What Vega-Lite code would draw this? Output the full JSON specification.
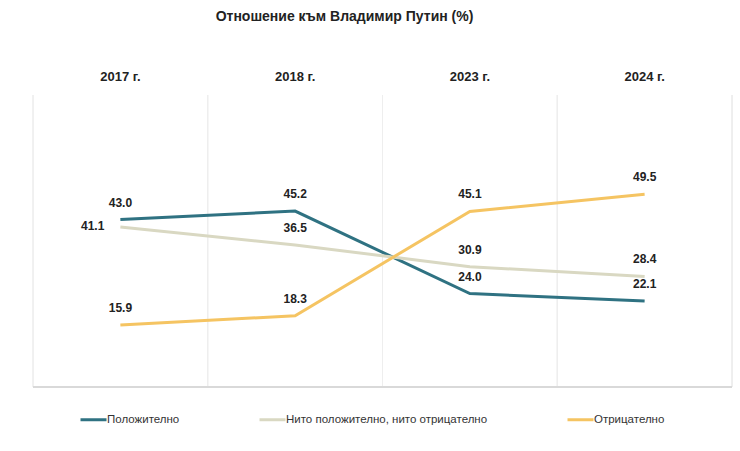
{
  "$schema": "https://vega.github.io/schema/vega-lite/v6.json",
  "autosize": "none",
  "width": 699,
  "height": 292,
  "padding": {"left": 33, "top": 95, "right": 8, "bottom": 64},
  "background": "white",
  "title": {
    "text": "Отношение към Владимир Путин (%)",
    "fontSize": 14,
    "fontWeight": "bold",
    "color": "#222222",
    "anchor": "middle",
    "dx": -38,
    "offset": 46
  },
  "config": {
    "view": {"stroke": null},
    "font": "Liberation Sans"
  },
  "data": {
    "values": [
      {"year": "2017 г.", "series": "Положително", "value": 43.0},
      {"year": "2018 г.", "series": "Положително", "value": 45.2},
      {"year": "2023 г.", "series": "Положително", "value": 24.0},
      {"year": "2024 г.", "series": "Положително", "value": 22.1},
      {"year": "2017 г.", "series": "Нито положително, нито отрицателно", "value": 41.1},
      {"year": "2018 г.", "series": "Нито положително, нито отрицателно", "value": 36.5},
      {"year": "2023 г.", "series": "Нито положително, нито отрицателно", "value": 30.9},
      {"year": "2024 г.", "series": "Нито положително, нито отрицателно", "value": 28.4},
      {"year": "2017 г.", "series": "Отрицателно", "value": 15.9},
      {"year": "2018 г.", "series": "Отрицателно", "value": 18.3},
      {"year": "2023 г.", "series": "Отрицателно", "value": 45.1},
      {"year": "2024 г.", "series": "Отрицателно", "value": 49.5}
    ]
  },
  "encoding": {
    "x": {
      "field": "year",
      "type": "nominal",
      "bandPosition": 0.5,
      "scale": {"type": "band", "paddingInner": 0, "paddingOuter": 0},
      "axis": {
        "orient": "top",
        "title": null,
        "domain": false,
        "ticks": false,
        "grid": false,
        "labelAngle": 0,
        "labelPadding": 12,
        "labelFontSize": 13,
        "labelFontWeight": "bold",
        "labelColor": "#222222",
        "bandPosition": 0.5
      }
    },
    "y": {
      "field": "value",
      "type": "quantitative",
      "scale": {"domain": [0, 75], "nice": false},
      "axis": null
    }
  },
  "layer": [
    {
      "mark": {"type": "rule", "stroke": "#eeeeee", "strokeWidth": 1},
      "encoding": {
        "x": {
          "field": "year",
          "type": "nominal",
          "bandPosition": 0,
          "scale": {"type": "band", "paddingInner": 0, "paddingOuter": 0}
        },
        "y": {"datum": 0},
        "y2": {"datum": 75}
      }
    },
    {
      "mark": {"type": "rule", "stroke": "#eeeeee", "strokeWidth": 1},
      "encoding": {
        "x": {"value": 699},
        "y": {"datum": 0},
        "y2": {"datum": 75}
      }
    },
    {
      "mark": {"type": "rule", "stroke": "#d9d9d9", "strokeWidth": 2},
      "encoding": {
        "x": {"value": 0},
        "x2": {"value": 699},
        "y": {"datum": 0}
      }
    },
    {
      "mark": {"type": "line", "strokeWidth": 3},
      "encoding": {
        "color": {
          "field": "series",
          "type": "nominal",
          "scale": {
            "domain": ["Положително", "Нито положително, нито отрицателно", "Отрицателно"],
            "range": ["#2f7282", "#d9d8c2", "#f5c462"]
          },
          "legend": {
            "title": null,
            "orient": "none",
            "direction": "horizontal",
            "legendX": 46,
            "legendY": 310,
            "symbolType": "stroke",
            "symbolSize": 676,
            "symbolStrokeWidth": 3,
            "labelOffset": -1,
            "columnPadding": 73,
            "labelFontSize": 11.5,
            "labelColor": "#333333",
            "labelLimit": 400
          }
        }
      }
    },
    {
      "transform": [{"filter": "!(datum.year == '2017 г.' && datum.value == 41.1)"}],
      "mark": {"type": "text", "dy": -17, "fontSize": 12, "fontWeight": "bold", "color": "#222222"},
      "encoding": {"text": {"field": "value", "type": "quantitative", "format": ".1f"}}
    },
    {
      "transform": [{"filter": "datum.year == '2017 г.' && datum.value == 41.1"}],
      "mark": {"type": "text", "dx": -16, "dy": -1, "align": "right", "fontSize": 12, "fontWeight": "bold", "color": "#222222"},
      "encoding": {"text": {"field": "value", "type": "quantitative", "format": ".1f"}}
    }
  ]
}
